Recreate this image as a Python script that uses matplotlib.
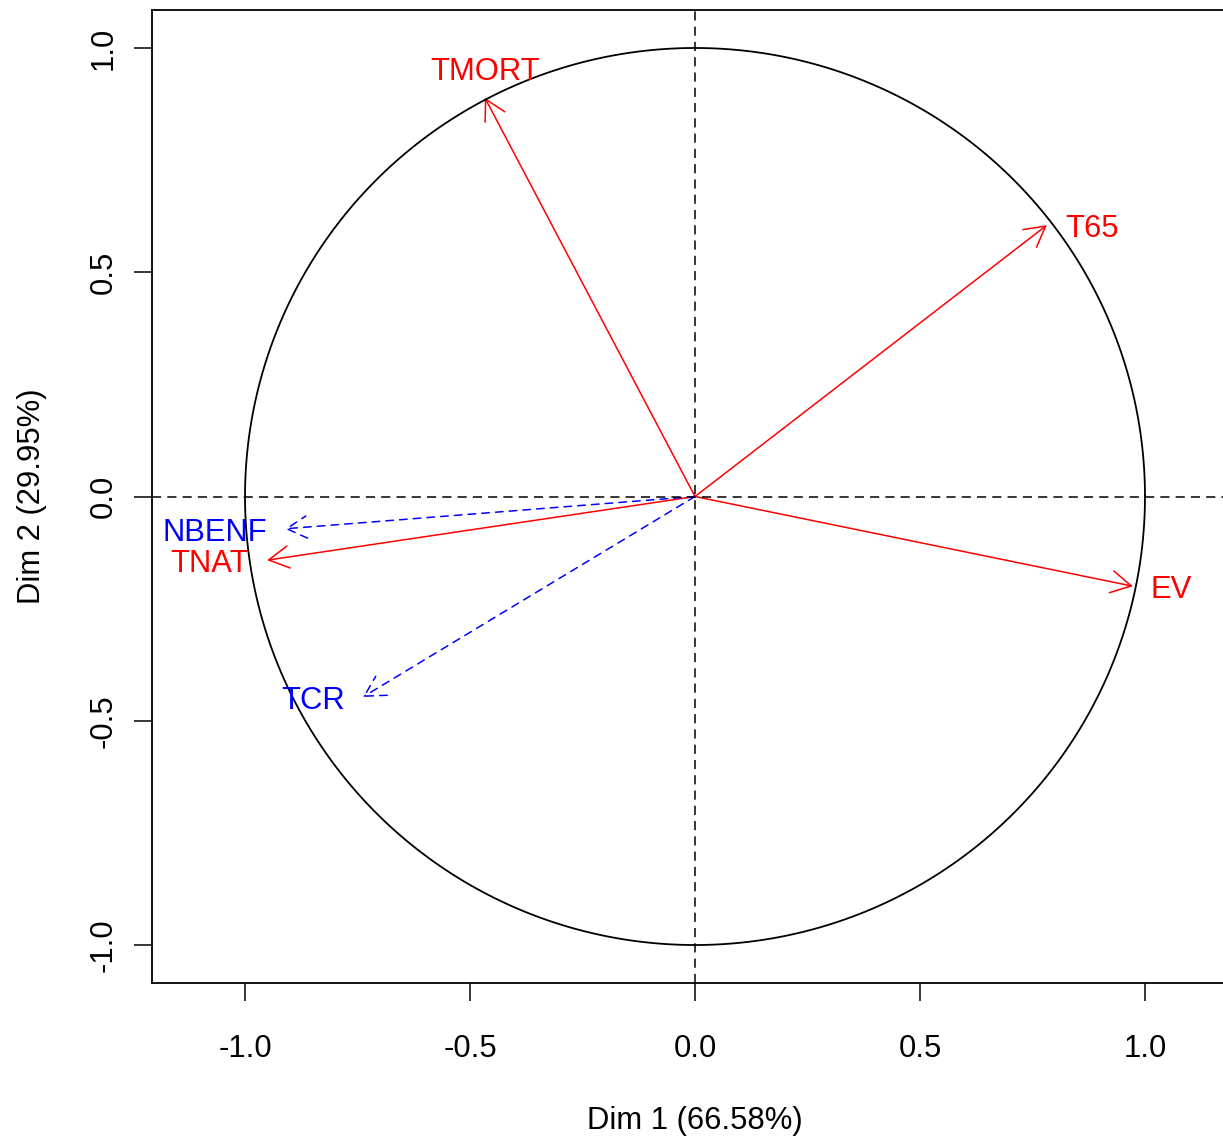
import numpy as np
import matplotlib.pyplot as plt
from matplotlib.patches import FancyArrowPatch

plt.rcParams['font.family'] = ['Liberation Sans', 'DejaVu Sans']
plt.rcParams['axes.unicode_minus'] = False

# active variables (coordinates on Dim 1 / Dim 2)
var_names = ['TMORT', 'T65', 'EV', 'TNAT']
var_dim1 = [-0.467, 0.782, 0.973, -0.951]
var_dim2 = [0.889, 0.605, -0.200, -0.142]

# supplementary variables
sup_names = ['NBENF', 'TCR']
sup_dim1 = [-0.911, -0.738]
sup_dim2 = [-0.072, -0.447]

ticks = [-1.0, -0.5, 0.0, 0.5, 1.0]
xlab = 'Dim 1 (66.58%)'
ylab = 'Dim 2 (29.95%)'

FS = 22.3
W, H = 1223, 1137
fig = plt.figure(figsize=(W / 100, H / 100), dpi=100)
# plot region runs a bit past the right edge of the image (as in the original)
ax = fig.add_axes([152 / W, (H - 983) / H, (1238 - 152) / W, (983 - 10) / H])
ax.set_xlim(-1.2067, 1.2067)
ax.set_ylim(-1.0847, 1.0847)

# correlation circle
th = np.linspace(0, 2 * np.pi, 400)
ax.plot(np.cos(th), np.sin(th), color='black', lw=1.3)
ax.axhline(0, color='black', lw=1.1, dashes=(6, 4))
ax.axvline(0, color='black', lw=1.1, dashes=(6, 4))


def arrow_and_label(x, y, name, color, ls):
    ax.add_patch(FancyArrowPatch((0, 0), (x, y), arrowstyle='->,head_length=1.45,head_width=0.8',
                                 mutation_scale=10, color=color, lw=1.1, linestyle=ls,
                                 shrinkA=0, shrinkB=0))
    if abs(x) > abs(y):
        off = 13
        dx, dy, ha, va = (off if x > 0 else -off), -3, ('left' if x > 0 else 'right'), 'center'
    else:
        off = 8
        dx, dy, ha, va = 0, (off if y > 0 else -off), 'center', ('bottom' if y > 0 else 'top')
    ax.annotate(name, (x, y), xytext=(dx, dy), textcoords='offset points',
                ha=ha, va=va, color=color, fontsize=FS)


for x, y, n in zip(var_dim1, var_dim2, var_names):
    arrow_and_label(x, y, n, 'red', '-')
for x, y, n in zip(sup_dim1, sup_dim2, sup_names):
    arrow_and_label(x, y, n, 'blue', (0, (5, 4)))

ax.set_xticks(ticks)
ax.set_yticks(ticks)
ax.set_xticklabels(['%.1f' % t for t in ticks])
ax.set_yticklabels(['%.1f' % t for t in ticks], rotation=90, va='center')
ax.tick_params(length=13, width=1.1, labelsize=FS)
ax.tick_params(axis='x', pad=24)
ax.tick_params(axis='y', pad=11)
for s in ax.spines.values():
    s.set_linewidth(1.3)
ax.set_xlabel(xlab, fontsize=FS, labelpad=30)
ax.set_ylabel(ylab, fontsize=FS, labelpad=30)

fig.savefig('out.png', dpi=100)
